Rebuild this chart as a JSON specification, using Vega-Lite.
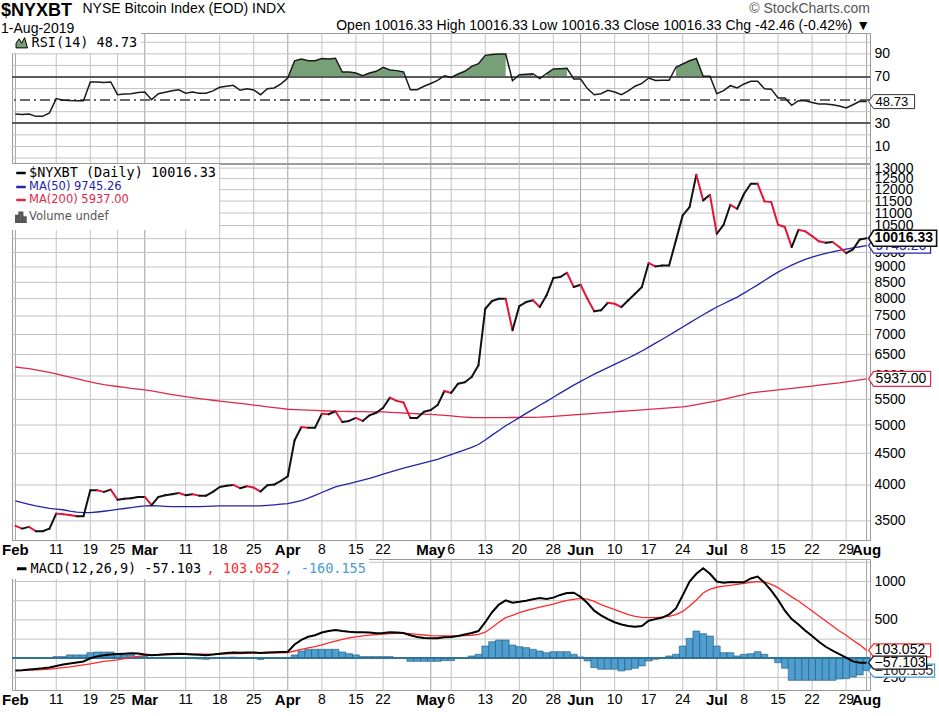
{
"$schema": "https://vega.github.io/schema/vega-lite/v6.json",
"padding": {"left": 1, "top": 0, "right": 0, "bottom": 0},
"background": "white",
"spacing": 0,
"resolve": {"scale": {"color": "independent"}, "legend": {"color": "independent"}},
"title": {"text": "$NYXBT", "subtitle": "1-Aug-2019", "anchor": "start", "frame": "bounds", "font": "Liberation Sans", "fontSize": 18, "fontWeight": "bold", "color": "#000000", "subtitleFont": "Liberation Sans", "subtitleFontSize": 14, "subtitleColor": "#000000", "subtitlePadding": 2, "dx": 0, "offset": -35},
"config": {
  "font": "Liberation Sans",
  "view": {"stroke": "#9a9a9a", "strokeWidth": 1},
  "axis": {"labelFont": "Liberation Sans", "labelFontSize": 14, "labelColor": "#000000", "grid": false, "domain": false, "ticks": false, "labelPadding": 4, "labelOverlap": false},
  "legend": {"title": null, "labelLimit": 400}
},
"datasets": {
"xt": [{"t":"2019-02-01"},{"t":"2019-02-11"},{"t":"2019-02-19"},{"t":"2019-02-25"},{"t":"2019-03-01"},{"t":"2019-03-11"},{"t":"2019-03-18"},{"t":"2019-03-25"},{"t":"2019-04-01"},{"t":"2019-04-08"},{"t":"2019-04-15"},{"t":"2019-04-22"},{"t":"2019-05-01"},{"t":"2019-05-06"},{"t":"2019-05-13"},{"t":"2019-05-20"},{"t":"2019-05-28"},{"t":"2019-06-03"},{"t":"2019-06-10"},{"t":"2019-06-17"},{"t":"2019-06-24"},{"t":"2019-07-01"},{"t":"2019-07-08"},{"t":"2019-07-15"},{"t":"2019-07-22"},{"t":"2019-07-29"},{"t":"2019-08-01"}],
"rg": [{"g":0},{"g":10},{"g":20},{"g":40},{"g":60},{"g":80},{"g":90},{"g":100}],
"pg": [{"g":3500},{"g":4000},{"g":4500},{"g":5000},{"g":5500},{"g":6000},{"g":6500},{"g":7000},{"g":7500},{"g":8000},{"g":8500},{"g":9000},{"g":9500},{"g":10000},{"g":10500},{"g":11000},{"g":11500},{"g":12000},{"g":12500},{"g":13000}],
"mg": [{"g":-250},{"g":250},{"g":500},{"g":750},{"g":1000},{"g":1250}],
"d": [
{"d":"2019-02-01","c":3435,"m50":3770,"m200":6204,"rsi":38,"macd":-160,"sig":-160,"h":0},
{"d":"2019-02-04","c":3401,"m50":3745,"m200":6185,"rsi":37.5,"macd":-155,"sig":-158,"h":2},
{"d":"2019-02-05","c":3423,"m50":3722,"m200":6165,"rsi":38,"macd":-145,"sig":-155,"h":3},
{"d":"2019-02-06","c":3368,"m50":3700,"m200":6140,"rsi":36,"macd":-138,"sig":-152,"h":5},
{"d":"2019-02-07","c":3368,"m50":3683,"m200":6110,"rsi":36,"macd":-130,"sig":-147,"h":8},
{"d":"2019-02-08","c":3401,"m50":3667,"m200":6080,"rsi":38.9,"macd":-120,"sig":-140,"h":10},
{"d":"2019-02-11","c":3596,"m50":3658,"m200":6045,"rsi":51.3,"macd":-100,"sig":-132,"h":22},
{"d":"2019-02-12","c":3588,"m50":3648,"m200":6010,"rsi":50,"macd":-80,"sig":-122,"h":22},
{"d":"2019-02-13","c":3579,"m50":3630,"m200":5977,"rsi":49.6,"macd":-68,"sig":-112,"h":44},
{"d":"2019-02-14","c":3562,"m50":3615,"m200":5940,"rsi":49.5,"macd":-55,"sig":-100,"h":44},
{"d":"2019-02-15","c":3562,"m50":3610,"m200":5905,"rsi":49.5,"macd":-42,"sig":-87,"h":44},
{"d":"2019-02-19","c":3923,"m50":3610,"m200":5868,"rsi":65.7,"macd":0,"sig":-72,"h":73},
{"d":"2019-02-20","c":3923,"m50":3618,"m200":5835,"rsi":65.7,"macd":25,"sig":-56,"h":82},
{"d":"2019-02-21","c":3899,"m50":3628,"m200":5810,"rsi":65.2,"macd":40,"sig":-40,"h":82},
{"d":"2019-02-22","c":3932,"m50":3640,"m200":5790,"rsi":65.7,"macd":50,"sig":-30,"h":82},
{"d":"2019-02-25","c":3788,"m50":3652,"m200":5770,"rsi":54.7,"macd":55,"sig":-22,"h":60},
{"d":"2019-02-26","c":3802,"m50":3665,"m200":5750,"rsi":55.2,"macd":60,"sig":-5,"h":44},
{"d":"2019-02-27","c":3808,"m50":3678,"m200":5730,"rsi":55.5,"macd":65,"sig":10,"h":44},
{"d":"2019-02-28","c":3826,"m50":3690,"m200":5715,"rsi":56.5,"macd":62,"sig":25,"h":22},
{"d":"2019-03-01","c":3826,"m50":3700,"m200":5700,"rsi":57,"macd":50,"sig":35,"h":22},
{"d":"2019-03-04","c":3710,"m50":3705,"m200":5675,"rsi":50.4,"macd":40,"sig":40,"h":0},
{"d":"2019-03-05","c":3826,"m50":3700,"m200":5650,"rsi":55.5,"macd":45,"sig":43,"h":2},
{"d":"2019-03-06","c":3851,"m50":3694,"m200":5625,"rsi":56.8,"macd":52,"sig":46,"h":6},
{"d":"2019-03-07","c":3865,"m50":3690,"m200":5600,"rsi":58.2,"macd":57,"sig":49,"h":8},
{"d":"2019-03-08","c":3883,"m50":3690,"m200":5578,"rsi":59,"macd":60,"sig":52,"h":8},
{"d":"2019-03-11","c":3851,"m50":3690,"m200":5556,"rsi":56,"macd":55,"sig":53,"h":2},
{"d":"2019-03-12","c":3865,"m50":3690,"m200":5535,"rsi":57,"macd":50,"sig":54,"h":-4},
{"d":"2019-03-13","c":3845,"m50":3692,"m200":5514,"rsi":56,"macd":45,"sig":54,"h":-9},
{"d":"2019-03-14","c":3845,"m50":3695,"m200":5498,"rsi":56,"macd":40,"sig":53,"h":-13},
{"d":"2019-03-15","c":3899,"m50":3698,"m200":5482,"rsi":58,"macd":48,"sig":52,"h":-4},
{"d":"2019-03-18","c":3971,"m50":3700,"m200":5466,"rsi":61.1,"macd":60,"sig":54,"h":6},
{"d":"2019-03-19","c":3990,"m50":3700,"m200":5450,"rsi":62,"macd":70,"sig":57,"h":13},
{"d":"2019-03-20","c":4001,"m50":3700,"m200":5434,"rsi":62.8,"macd":75,"sig":60,"h":15},
{"d":"2019-03-21","c":3953,"m50":3700,"m200":5418,"rsi":58.5,"macd":72,"sig":62,"h":10},
{"d":"2019-03-22","c":3981,"m50":3700,"m200":5402,"rsi":59.8,"macd":75,"sig":64,"h":11},
{"d":"2019-03-25","c":3962,"m50":3700,"m200":5385,"rsi":58.8,"macd":74,"sig":66,"h":8},
{"d":"2019-03-26","c":3904,"m50":3702,"m200":5368,"rsi":54.7,"macd":70,"sig":67,"h":-15},
{"d":"2019-03-27","c":3997,"m50":3708,"m200":5350,"rsi":59.8,"macd":75,"sig":68,"h":7},
{"d":"2019-03-28","c":4006,"m50":3716,"m200":5333,"rsi":60.5,"macd":78,"sig":70,"h":8},
{"d":"2019-03-29","c":4061,"m50":3724,"m200":5317,"rsi":64,"macd":82,"sig":72,"h":10},
{"d":"2019-04-01","c":4133,"m50":3733,"m200":5302,"rsi":69,"macd":85,"sig":75,"h":10,"ob":1},
{"d":"2019-04-02","c":4724,"m50":3752,"m200":5296,"rsi":84,"macd":180,"sig":95,"h":44,"ob":1},
{"d":"2019-04-03","c":4963,"m50":3773,"m200":5290,"rsi":85.6,"macd":240,"sig":115,"h":95,"ob":1},
{"d":"2019-04-04","c":4950,"m50":3810,"m200":5284,"rsi":84.1,"macd":280,"sig":135,"h":117,"ob":1},
{"d":"2019-04-05","c":4950,"m50":3850,"m200":5278,"rsi":84.1,"macd":300,"sig":151,"h":117,"ob":1},
{"d":"2019-04-08","c":5216,"m50":3890,"m200":5272,"rsi":85.9,"macd":335,"sig":175,"h":117,"ob":1},
{"d":"2019-04-09","c":5204,"m50":3932,"m200":5267,"rsi":85.5,"macd":355,"sig":200,"h":117,"ob":1},
{"d":"2019-04-10","c":5262,"m50":3971,"m200":5262,"rsi":86.2,"macd":368,"sig":225,"h":117,"ob":1},
{"d":"2019-04-11","c":5057,"m50":3997,"m200":5260,"rsi":74.3,"macd":355,"sig":245,"h":82,"ob":1},
{"d":"2019-04-12","c":5076,"m50":4022,"m200":5258,"rsi":74.3,"macd":345,"sig":265,"h":60,"ob":1},
{"d":"2019-04-15","c":5133,"m50":4048,"m200":5256,"rsi":73.5,"macd":340,"sig":280,"h":44,"ob":1},
{"d":"2019-04-16","c":5076,"m50":4074,"m200":5254,"rsi":71.1,"macd":338,"sig":292,"h":22,"ob":1},
{"d":"2019-04-17","c":5183,"m50":4100,"m200":5252,"rsi":73.5,"macd":335,"sig":302,"h":22,"ob":1},
{"d":"2019-04-18","c":5234,"m50":4132,"m200":5250,"rsi":74.9,"macd":325,"sig":310,"h":22,"ob":1},
{"d":"2019-04-22","c":5332,"m50":4164,"m200":5249,"rsi":78.4,"macd":330,"sig":316,"h":22,"ob":1},
{"d":"2019-04-23","c":5535,"m50":4196,"m200":5242,"rsi":76,"macd":340,"sig":322,"h":22,"ob":1},
{"d":"2019-04-24","c":5469,"m50":4228,"m200":5235,"rsi":75.5,"macd":335,"sig":325,"h":10,"ob":1},
{"d":"2019-04-25","c":5435,"m50":4260,"m200":5228,"rsi":74.3,"macd":330,"sig":325,"h":5,"ob":1},
{"d":"2019-04-26","c":5133,"m50":4288,"m200":5221,"rsi":59,"macd":300,"sig":320,"h":-40},
{"d":"2019-04-29","c":5133,"m50":4316,"m200":5214,"rsi":59,"macd":277,"sig":312,"h":-40},
{"d":"2019-04-30","c":5253,"m50":4344,"m200":5208,"rsi":62,"macd":265,"sig":303,"h":-40},
{"d":"2019-05-01","c":5286,"m50":4372,"m200":5202,"rsi":64.4,"macd":260,"sig":295,"h":-40},
{"d":"2019-05-02","c":5385,"m50":4400,"m200":5192,"rsi":67,"macd":262,"sig":292,"h":-40},
{"d":"2019-05-03","c":5675,"m50":4440,"m200":5182,"rsi":71.1,"macd":275,"sig":290,"h":-30,"ob":2},
{"d":"2019-05-06","c":5633,"m50":4480,"m200":5172,"rsi":69.7,"macd":277,"sig":290,"h":-30,"ob":2},
{"d":"2019-05-07","c":5830,"m50":4520,"m200":5160,"rsi":72.6,"macd":290,"sig":293,"h":0,"ob":2},
{"d":"2019-05-08","c":5863,"m50":4560,"m200":5150,"rsi":74.9,"macd":310,"sig":296,"h":0,"ob":2},
{"d":"2019-05-09","c":5977,"m50":4600,"m200":5142,"rsi":79.2,"macd":330,"sig":300,"h":30,"ob":2},
{"d":"2019-05-10","c":6243,"m50":4650,"m200":5140,"rsi":81.5,"macd":355,"sig":312,"h":52,"ob":2},
{"d":"2019-05-13","c":7705,"m50":4730,"m200":5140,"rsi":88.7,"macd":470,"sig":340,"h":160,"ob":2},
{"d":"2019-05-14","c":7929,"m50":4815,"m200":5140,"rsi":89.5,"macd":600,"sig":400,"h":216,"ob":2},
{"d":"2019-05-15","c":7997,"m50":4900,"m200":5140,"rsi":89.9,"macd":700,"sig":470,"h":238,"ob":2},
{"d":"2019-05-16","c":7997,"m50":4985,"m200":5141,"rsi":89.9,"macd":755,"sig":529,"h":238,"ob":2},
{"d":"2019-05-17","c":7111,"m50":5060,"m200":5142,"rsi":66.8,"macd":724,"sig":560,"h":173},
{"d":"2019-05-20","c":7783,"m50":5140,"m200":5143,"rsi":72,"macd":735,"sig":594,"h":151,"ob":3},
{"d":"2019-05-21","c":7900,"m50":5220,"m200":5144,"rsi":72.4,"macd":750,"sig":620,"h":139,"ob":3},
{"d":"2019-05-22","c":7950,"m50":5300,"m200":5145,"rsi":72.8,"macd":770,"sig":645,"h":117,"ob":3},
{"d":"2019-05-23","c":7754,"m50":5380,"m200":5147,"rsi":68.6,"macd":785,"sig":665,"h":95},
{"d":"2019-05-24","c":8099,"m50":5460,"m200":5155,"rsi":73,"macd":772,"sig":685,"h":73,"ob":4},
{"d":"2019-05-28","c":8637,"m50":5545,"m200":5164,"rsi":77,"macd":790,"sig":705,"h":86,"ob":4},
{"d":"2019-05-29","c":8669,"m50":5630,"m200":5174,"rsi":77.2,"macd":825,"sig":730,"h":86,"ob":4},
{"d":"2019-05-30","c":8809,"m50":5715,"m200":5183,"rsi":77.5,"macd":850,"sig":755,"h":86,"ob":4},
{"d":"2019-05-31","c":8352,"m50":5800,"m200":5193,"rsi":68.3,"macd":854,"sig":768,"h":52},
{"d":"2019-06-03","c":8425,"m50":5880,"m200":5202,"rsi":68.3,"macd":800,"sig":780,"h":17},
{"d":"2019-06-04","c":7997,"m50":5960,"m200":5212,"rsi":60,"macd":720,"sig":770,"h":-35},
{"d":"2019-06-05","c":7631,"m50":6040,"m200":5222,"rsi":54.7,"macd":620,"sig":740,"h":-122},
{"d":"2019-06-06","c":7660,"m50":6115,"m200":5232,"rsi":55.5,"macd":560,"sig":700,"h":-143},
{"d":"2019-06-07","c":7879,"m50":6190,"m200":5242,"rsi":58.5,"macd":510,"sig":665,"h":-143},
{"d":"2019-06-10","c":7850,"m50":6265,"m200":5252,"rsi":57,"macd":470,"sig":635,"h":-143},
{"d":"2019-06-11","c":7754,"m50":6340,"m200":5262,"rsi":54.7,"macd":440,"sig":600,"h":-165},
{"d":"2019-06-12","c":7950,"m50":6415,"m200":5271,"rsi":58,"macd":420,"sig":570,"h":-150},
{"d":"2019-06-13","c":8147,"m50":6495,"m200":5280,"rsi":62,"macd":410,"sig":545,"h":-130},
{"d":"2019-06-14","c":8352,"m50":6585,"m200":5290,"rsi":64.5,"macd":420,"sig":534,"h":-100},
{"d":"2019-06-17","c":9132,"m50":6680,"m200":5300,"rsi":69.1,"macd":490,"sig":530,"h":-35},
{"d":"2019-06-18","c":9020,"m50":6780,"m200":5310,"rsi":67,"macd":510,"sig":530,"h":-13},
{"d":"2019-06-19","c":9053,"m50":6880,"m200":5320,"rsi":67.2,"macd":530,"sig":535,"h":9},
{"d":"2019-06-20","c":9053,"m50":6980,"m200":5330,"rsi":67.2,"macd":570,"sig":545,"h":30},
{"d":"2019-06-21","c":9936,"m50":7090,"m200":5340,"rsi":78.4,"macd":650,"sig":570,"h":52,"ob":5},
{"d":"2019-06-24","c":10904,"m50":7200,"m200":5349,"rsi":81.2,"macd":820,"sig":610,"h":160,"ob":5},
{"d":"2019-06-25","c":11245,"m50":7310,"m200":5370,"rsi":84,"macd":1000,"sig":680,"h":260,"ob":5},
{"d":"2019-06-26","c":12680,"m50":7424,"m200":5395,"rsi":86,"macd":1100,"sig":760,"h":355,"ob":5},
{"d":"2019-06-27","c":11529,"m50":7535,"m200":5420,"rsi":70.6,"macd":1172,"sig":850,"h":320,"ob":5},
{"d":"2019-06-28","c":11771,"m50":7645,"m200":5445,"rsi":70.6,"macd":1100,"sig":900,"h":290,"ob":5},
{"d":"2019-07-01","c":10183,"m50":7754,"m200":5470,"rsi":55.6,"macd":1000,"sig":925,"h":160},
{"d":"2019-07-02","c":10529,"m50":7850,"m200":5502,"rsi":58.2,"macd":985,"sig":940,"h":73},
{"d":"2019-07-03","c":11342,"m50":7950,"m200":5535,"rsi":62.5,"macd":995,"sig":950,"h":73},
{"d":"2019-07-05","c":11175,"m50":8047,"m200":5568,"rsi":60.5,"macd":990,"sig":962,"h":30},
{"d":"2019-07-08","c":11816,"m50":8165,"m200":5600,"rsi":64,"macd":990,"sig":975,"h":52},
{"d":"2019-07-09","c":12263,"m50":8290,"m200":5633,"rsi":66.3,"macd":1040,"sig":990,"h":60},
{"d":"2019-07-10","c":12263,"m50":8420,"m200":5650,"rsi":66.3,"macd":1065,"sig":998,"h":86},
{"d":"2019-07-11","c":11487,"m50":8560,"m200":5666,"rsi":59.9,"macd":985,"sig":995,"h":52},
{"d":"2019-07-12","c":11455,"m50":8700,"m200":5682,"rsi":59.5,"macd":880,"sig":963,"h":9},
{"d":"2019-07-15","c":10529,"m50":8830,"m200":5698,"rsi":51.9,"macd":760,"sig":920,"h":-57},
{"d":"2019-07-16","c":10440,"m50":8950,"m200":5714,"rsi":51.9,"macd":620,"sig":860,"h":-130},
{"d":"2019-07-17","c":9692,"m50":9060,"m200":5730,"rsi":45.5,"macd":510,"sig":800,"h":-287},
{"d":"2019-07-18","c":10335,"m50":9165,"m200":5746,"rsi":49.5,"macd":440,"sig":746,"h":-287},
{"d":"2019-07-19","c":10275,"m50":9260,"m200":5762,"rsi":49.5,"macd":360,"sig":680,"h":-287},
{"d":"2019-07-22","c":10096,"m50":9335,"m200":5780,"rsi":48,"macd":290,"sig":615,"h":-287},
{"d":"2019-07-23","c":9900,"m50":9405,"m200":5798,"rsi":46.7,"macd":215,"sig":551,"h":-287},
{"d":"2019-07-24","c":9850,"m50":9465,"m200":5815,"rsi":46.7,"macd":150,"sig":485,"h":-287},
{"d":"2019-07-25","c":9875,"m50":9520,"m200":5833,"rsi":46,"macd":100,"sig":420,"h":-287},
{"d":"2019-07-26","c":9692,"m50":9570,"m200":5850,"rsi":45,"macd":55,"sig":355,"h":-270},
{"d":"2019-07-29","c":9477,"m50":9615,"m200":5872,"rsi":43.2,"macd":10,"sig":300,"h":-265},
{"d":"2019-07-30","c":9610,"m50":9660,"m200":5894,"rsi":46,"macd":-40,"sig":235,"h":-243},
{"d":"2019-07-31","c":9972,"m50":9703,"m200":5916,"rsi":49,"macd":-57,"sig":175,"h":-217},
{"d":"2019-08-01","c":10016.33,"m50":9745.26,"m200":5937,"rsi":48.73,"macd":-57.103,"sig":103.052,"h":-160.155}
]},
"vconcat": [
{
"spacing": -5,
"resolve": {"scale": {"color": "independent"}, "legend": {"color": "independent"}},
"vconcat": [
{
 "width": 858, "height": 130,
 "data": {"name": "d"},
 "title": {"text": "© StockCharts.com", "subtitle": "Open 10016.33  High 10016.33  Low 10016.33  Close 10016.33  Chg -42.46 (-0.42%) ▼", "anchor": "end", "frame": "group", "font": "Liberation Sans", "fontSize": 14, "fontWeight": "normal", "color": "#555555", "subtitleFont": "Liberation Sans", "subtitleFontSize": 14, "subtitleColor": "#000000", "subtitlePadding": 3, "offset": -32},
 "layer": [
  {"data": {"name": "xt"},
   "mark": {"type": "rule", "strokeWidth": 1},
   "encoding": {
    "x": {"field": "t", "type": "ordinal", "bandPosition": 0.5, "scale": {"type": "band", "paddingInner": 0, "paddingOuter": 0},
      "axis": {"orient": "top", "labels": false, "domain": false, "ticks": false, "grid": false,
        "title": "NYSE Bitcoin Index (EOD)  INDX", "titleFont": "Liberation Sans", "titleFontSize": 14, "titleFontWeight": "normal", "titleColor": "#000000", "titleAnchor": "start", "titleAlign": "left", "titleX": 70, "titlePadding": 18}},
    "color": {"condition": {"test": "indexof(['2019-02-01','2019-03-01','2019-04-01','2019-05-01','2019-06-03','2019-07-01','2019-08-01'], datum.t) >= 0", "value": "#a0a0a0"}, "value": "#c2c2c2"}}},
  {"data": {"name": "rg"},
   "mark": {"type": "rule", "strokeWidth": 1, "color": "#c2c2c2"},
   "encoding": {"y": {"field": "g", "type": "quantitative", "scale": {"domain": [-4.3, 108], "nice": false, "zero": false},
      "axis": {"orient": "right", "values": [10,30,70,90], "labelOverlap": false, "title": null}}}},
  {"transform": [{"filter": "isValid(datum.ob)"}],
   "mark": {"type": "area", "opacity": 1},
   "encoding": {
    "x": {"field": "d", "type": "ordinal", "bandPosition": 0.5},
    "y": {"field": "rsi", "type": "quantitative"},
    "y2": {"datum": 70},
    "detail": {"field": "ob", "type": "nominal"},
    "color": {"datum": "RSI(14) 48.73", "type": "nominal", "scale": {"domain": ["RSI(14) 48.73"], "range": ["#78a078"]},
      "legend": {"orient": "top-left", "offset": 0, "fillColor": "white", "padding": 3, "labelFont": "DejaVu Sans Mono", "labelFontSize": 13.5, "labelColor": "#000000", "symbolType": "M-1,0.9L-1,0.1L-0.45,-0.7L0,0.1L0.5,-0.9L1,0.9Z", "symbolSize": 130, "symbolStrokeColor": "#000000", "symbolStrokeWidth": 1, "labelOffset": 3}}
   }},
  {"mark": {"type": "rule", "color": "#5a5a5a", "strokeWidth": 1.2}, "encoding": {"y": {"datum": 70}}},
  {"mark": {"type": "rule", "color": "#5a5a5a", "strokeWidth": 1.2}, "encoding": {"y": {"datum": 30}}},
  {"mark": {"type": "rule", "color": "#6a6a6a", "strokeWidth": 1, "strokeDash": [10, 4, 2, 4]}, "encoding": {"y": {"datum": 50}}},
  {"mark": {"type": "line", "color": "#1a1a1a", "strokeWidth": 1.5},
   "encoding": {"x": {"field": "d", "type": "ordinal", "bandPosition": 0.5}, "y": {"field": "rsi", "type": "quantitative"}}},
  {"transform": [{"filter": "datum.d == '2019-08-01'"}],
   "mark": {"type": "point", "shape": "M0,0L0.217,-0.304L2,-0.304L2,0.304L0.217,0.304Z", "size": 2116, "filled": true, "fill": "white", "stroke": "#333333", "strokeWidth": 1, "opacity": 1, "xOffset": 2},
   "encoding": {"x": {"field": "d", "type": "ordinal", "bandPosition": 0.5}, "y": {"field": "rsi", "type": "quantitative"}}},
  {"transform": [{"filter": "datum.d == '2019-08-01'"}],
   "mark": {"type": "text", "align": "left", "baseline": "middle", "dx": 9, "font": "Liberation Sans", "fontSize": 13, "color": "#000000"},
   "encoding": {"x": {"field": "d", "type": "ordinal", "bandPosition": 0.5}, "y": {"field": "rsi", "type": "quantitative"}, "text": {"field": "rsi", "type": "quantitative", "format": ".2f"}}}
 ]
},
{
 "width": 858, "height": 376,
 "data": {"name": "d"},
 "layer": [
  {"data": {"name": "xt"},
   "mark": {"type": "rule", "strokeWidth": 1},
   "encoding": {
    "x": {"field": "t", "type": "ordinal", "bandPosition": 0.5, "scale": {"type": "band", "paddingInner": 0, "paddingOuter": 0},
      "axis": {"orient": "bottom", "values": ["2019-02-01","2019-02-11","2019-02-19","2019-02-25","2019-03-01","2019-03-11","2019-03-18","2019-03-25","2019-04-01","2019-04-08","2019-04-15","2019-04-22","2019-05-01","2019-05-06","2019-05-13","2019-05-20","2019-05-28","2019-06-03","2019-06-10","2019-06-17","2019-06-24","2019-07-01","2019-07-08","2019-07-15","2019-07-22","2019-07-29","2019-08-01"],
        "labelExpr": "indexof(['2019-02-01','2019-03-01','2019-04-01','2019-05-01','2019-06-03','2019-07-01','2019-08-01'], datum.value) >= 0 ? ['','Jan','Feb','Mar','Apr','May','Jun','Jul','Aug'][toNumber(slice(datum.value,5,7))] : '' + toNumber(slice(datum.value,8,10))",
        "labelFontWeight": {"condition": {"test": "indexof(['2019-02-01','2019-03-01','2019-04-01','2019-05-01','2019-06-03','2019-07-01','2019-08-01'], datum.value) >= 0", "value": "bold"}, "value": "normal"},
        "labelFontSize": {"condition": {"test": "indexof(['2019-02-01','2019-03-01','2019-04-01','2019-05-01','2019-06-03','2019-07-01','2019-08-01'], datum.value) >= 0", "value": 15}, "value": 14},
        "labelAngle": 0, "labelPadding": 2, "labelOverlap": false, "labelBound": false, "labelBaseline": "top", "domain": false, "ticks": false, "grid": false, "title": null}},
    "color": {"condition": {"test": "indexof(['2019-02-01','2019-03-01','2019-04-01','2019-05-01','2019-06-03','2019-07-01','2019-08-01'], datum.t) >= 0", "value": "#a0a0a0"}, "value": "#c2c2c2"}}},
  {"data": {"name": "pg"},
   "mark": {"type": "rule", "strokeWidth": 1, "color": "#c2c2c2"},
   "encoding": {"y": {"field": "g", "type": "quantitative", "scale": {"type": "log", "domain": [3260, 13200], "nice": false},
      "axis": {"orient": "right", "values": [3500,4000,4500,5000,5500,6000,6500,7000,7500,8000,8500,9000,9500,10000,10500,11000,11500,12000,12500,13000], "format": "d", "labelOverlap": false, "labelBound": false, "title": null}}}},
  {"mark": {"type": "line", "strokeWidth": 1.3},
   "encoding": {
    "x": {"field": "d", "type": "ordinal", "bandPosition": 0.5},
    "y": {"field": "m200", "type": "quantitative"},
    "color": {"datum": "m200", "type": "nominal",
      "scale": {"domain": ["c", "m50", "m200", "vol"], "range": ["#000000", "#2424a6", "#e0284a", "#555555"]},
      "legend": {"orient": "top-left", "offset": 0, "fillColor": "white", "padding": 3, "rowPadding": 1, "labelOffset": 2,
        "symbolType": {"expr": "datum.value == 'vol' ? 'M-1,1L-1,-0.2L-0.45,-0.2L-0.45,1ZM-0.3,1L-0.3,-0.9L0.25,-0.9L0.25,1ZM0.4,1L0.4,0.1L0.95,0.1L0.95,1Z' : 'stroke'"},
        "symbolStrokeWidth": 2.5, "symbolSize": 90,
        "labelExpr": "datum.value == 'c' ? '$NYXBT (Daily) 10016.33' : datum.value == 'm50' ? 'MA(50) 9745.26' : datum.value == 'm200' ? 'MA(200) 5937.00' : 'Volume undef'",
        "labelColor": {"expr": "datum.value == 'm50' ? '#2424a6' : datum.value == 'm200' ? '#e0284a' : datum.value == 'vol' ? '#555555' : '#000000'"},
        "labelFont": {"expr": "datum.value == 'c' ? 'DejaVu Sans Mono' : 'DejaVu Sans'"},
        "labelFontSize": {"expr": "datum.value == 'c' ? 13.5 : 11.5"}}}
   }},
  {"mark": {"type": "line", "strokeWidth": 1.3},
   "encoding": {"x": {"field": "d", "type": "ordinal", "bandPosition": 0.5}, "y": {"field": "m50", "type": "quantitative"}, "color": {"datum": "m50", "type": "nominal"}}},
  {"transform": [{"window": [{"op": "lag", "field": "c", "as": "pc"}, {"op": "lag", "field": "d", "as": "pd"}], "sort": [{"field": "d", "order": "ascending"}]}, {"filter": "datum.pd != null"}],
   "mark": {"type": "rule", "strokeWidth": 2, "strokeCap": "round"},
   "encoding": {"x": {"field": "pd", "type": "ordinal", "bandPosition": 0.5}, "x2": {"field": "d"}, "y": {"field": "pc", "type": "quantitative"}, "y2": {"field": "c"},
     "color": {"condition": {"test": "datum.c < datum.pc", "value": "#e0173a"}, "value": "#111111"}}},
  {"transform": [{"filter": "datum.d == '2019-08-01'"}],
   "mark": {"type": "point", "shape": "M0,0L0.161,-0.242L2,-0.242L2,0.242L0.161,0.242Z", "size": 3844, "filled": true, "fill": "white", "stroke": "#e0284a", "strokeWidth": 1.2, "opacity": 1, "xOffset": 2},
   "encoding": {"x": {"field": "d", "type": "ordinal", "bandPosition": 0.5}, "y": {"field": "m200", "type": "quantitative"}}},
  {"transform": [{"filter": "datum.d == '2019-08-01'"}],
   "mark": {"type": "text", "align": "left", "baseline": "middle", "dx": 9, "font": "Liberation Sans", "fontSize": 14, "color": "#000000"},
   "encoding": {"x": {"field": "d", "type": "ordinal", "bandPosition": 0.5}, "y": {"field": "m200", "type": "quantitative"}, "text": {"field": "m200", "type": "quantitative", "format": ".2f"}}},
  {"transform": [{"filter": "datum.d == '2019-08-01'"}],
   "mark": {"type": "point", "shape": "M0,0L0.161,-0.242L2,-0.242L2,0.242L0.161,0.242Z", "size": 3844, "filled": true, "fill": "white", "stroke": "#2424a6", "strokeWidth": 1.2, "opacity": 1, "xOffset": 2},
   "encoding": {"x": {"field": "d", "type": "ordinal", "bandPosition": 0.5}, "y": {"field": "m50", "type": "quantitative"}}},
  {"transform": [{"filter": "datum.d == '2019-08-01'"}],
   "mark": {"type": "text", "align": "left", "baseline": "middle", "dx": 9, "font": "Liberation Sans", "fontSize": 14, "color": "#2424a6"},
   "encoding": {"x": {"field": "d", "type": "ordinal", "bandPosition": 0.5}, "y": {"field": "m50", "type": "quantitative"}, "text": {"field": "m50", "type": "quantitative", "format": ".2f"}}},
  {"transform": [{"filter": "datum.d == '2019-08-01'"}],
   "mark": {"type": "point", "shape": "M0,0L0.147,-0.235L2,-0.235L2,0.235L0.147,0.235Z", "size": 4624, "filled": true, "fill": "white", "stroke": "#111111", "strokeWidth": 1.6, "opacity": 1, "xOffset": 2},
   "encoding": {"x": {"field": "d", "type": "ordinal", "bandPosition": 0.5}, "y": {"field": "c", "type": "quantitative"}}},
  {"transform": [{"filter": "datum.d == '2019-08-01'"}],
   "mark": {"type": "text", "align": "left", "baseline": "middle", "dx": 8, "font": "Liberation Sans", "fontSize": 14, "fontWeight": "bold", "color": "#000000"},
   "encoding": {"x": {"field": "d", "type": "ordinal", "bandPosition": 0.5}, "y": {"field": "c", "type": "quantitative"}, "text": {"field": "c", "type": "quantitative", "format": ".2f"}}}
 ]
}
]
},
{
 "width": 858, "height": 131,
 "data": {"name": "d"},
 "layer": [
  {"data": {"name": "xt"},
   "mark": {"type": "rule", "strokeWidth": 1},
   "encoding": {
    "x": {"field": "t", "type": "ordinal", "bandPosition": 0.5, "scale": {"type": "band", "paddingInner": 0, "paddingOuter": 0},
      "axis": {"orient": "bottom", "values": ["2019-02-01","2019-02-11","2019-02-19","2019-02-25","2019-03-01","2019-03-11","2019-03-18","2019-03-25","2019-04-01","2019-04-08","2019-04-15","2019-04-22","2019-05-01","2019-05-06","2019-05-13","2019-05-20","2019-05-28","2019-06-03","2019-06-10","2019-06-17","2019-06-24","2019-07-01","2019-07-08","2019-07-15","2019-07-22","2019-07-29","2019-08-01"],
        "labelExpr": "indexof(['2019-02-01','2019-03-01','2019-04-01','2019-05-01','2019-06-03','2019-07-01','2019-08-01'], datum.value) >= 0 ? ['','Jan','Feb','Mar','Apr','May','Jun','Jul','Aug'][toNumber(slice(datum.value,5,7))] : '' + toNumber(slice(datum.value,8,10))",
        "labelFontWeight": {"condition": {"test": "indexof(['2019-02-01','2019-03-01','2019-04-01','2019-05-01','2019-06-03','2019-07-01','2019-08-01'], datum.value) >= 0", "value": "bold"}, "value": "normal"},
        "labelFontSize": {"condition": {"test": "indexof(['2019-02-01','2019-03-01','2019-04-01','2019-05-01','2019-06-03','2019-07-01','2019-08-01'], datum.value) >= 0", "value": 15}, "value": 14},
        "labelAngle": 0, "labelPadding": 2, "labelOverlap": false, "labelBound": false, "labelBaseline": "top", "domain": false, "ticks": false, "grid": false, "title": null}},
    "color": {"condition": {"test": "indexof(['2019-02-01','2019-03-01','2019-04-01','2019-05-01','2019-06-03','2019-07-01','2019-08-01'], datum.t) >= 0", "value": "#a0a0a0"}, "value": "#c2c2c2"}}},
  {"data": {"name": "mg"},
   "mark": {"type": "rule", "strokeWidth": 1, "color": "#c2c2c2"},
   "encoding": {"y": {"field": "g", "type": "quantitative", "scale": {"domain": [-413, 1293], "nice": false, "zero": false},
      "axis": {"orient": "right", "values": [-250,250,500,750,1000,1250], "format": "d", "labelOverlap": false, "labelBound": false, "title": null}}}},
  {"mark": {"type": "bar", "color": "#4e9ecf", "stroke": "#23557a", "strokeWidth": 0.6},
   "encoding": {
    "x": {"field": "d", "type": "ordinal"},
    "y": {"field": "h", "type": "quantitative", "axis": {"orient": "right", "values": [-250,250,500,750,1000,1250], "format": "d", "labelOverlap": false, "labelBound": false, "title": null}},
    "y2": {"datum": 0}
   }},
  {"mark": {"type": "rule", "color": "#2f7396", "strokeWidth": 1.2}, "encoding": {"y": {"datum": 0}}},
  {"mark": {"type": "line", "strokeWidth": 1.3},
   "encoding": {"x": {"field": "d", "type": "ordinal", "bandPosition": 0.5}, "y": {"field": "sig", "type": "quantitative", "axis": {"orient": "right", "values": [-250,250,500,750,1000,1250], "format": "d", "labelOverlap": false, "labelBound": false, "title": null}},
     "color": {"datum": "sig", "type": "nominal", "scale": {"domain": ["macd", "sig", "hist"], "range": ["#000000", "#ff2a2a", "#4a9ad0"]},
       "legend": {"orient": "top-left", "offset": 0, "fillColor": "white", "padding": 3, "direction": "horizontal", "columns": 3, "columnPadding": 0, "gridAlign": "none",
         "labelOffset": {"expr": "datum.value == 'macd' ? 2 : -9"},
         "symbolType": "stroke", "symbolStrokeWidth": 3,
         "symbolSize": {"expr": "datum.value == 'macd' ? 90 : 0"},
         "symbolOpacity": {"expr": "datum.value == 'macd' ? 1 : 0"},
         "labelExpr": "datum.value == 'macd' ? 'MACD(12,26,9) -57.103' : datum.value == 'sig' ? ', 103.052' : ', -160.155'",
         "labelColor": {"expr": "datum.value == 'macd' ? '#000000' : datum.value == 'sig' ? '#ff2a2a' : '#4a9ad0'"},
         "labelFont": "DejaVu Sans Mono", "labelFontSize": 13.5}}}},
  {"mark": {"type": "line", "strokeWidth": 2},
   "encoding": {"x": {"field": "d", "type": "ordinal", "bandPosition": 0.5}, "y": {"field": "macd", "type": "quantitative", "axis": {"orient": "right", "values": [-250,250,500,750,1000,1250], "format": "d", "labelOverlap": false, "labelBound": false, "title": null}}, "color": {"datum": "macd", "type": "nominal"}}},
  {"transform": [{"filter": "datum.d == '2019-08-01'"}],
   "mark": {"type": "point", "shape": "M0,0L0.152,-0.197L2,-0.197L2,0.197L0.152,0.197Z", "size": 4356, "filled": true, "fill": "white", "stroke": "#4a9ad0", "strokeWidth": 1.2, "opacity": 1, "xOffset": 2},
   "encoding": {"x": {"field": "d", "type": "ordinal", "bandPosition": 0.5}, "y": {"field": "h", "type": "quantitative"}}},
  {"transform": [{"filter": "datum.d == '2019-08-01'"}],
   "mark": {"type": "text", "align": "left", "baseline": "middle", "dx": 8, "font": "Liberation Sans", "fontSize": 14, "color": "#333333"},
   "encoding": {"x": {"field": "d", "type": "ordinal", "bandPosition": 0.5}, "y": {"field": "h", "type": "quantitative"}, "text": {"field": "h", "type": "quantitative", "format": ".3f"}}},
  {"transform": [{"filter": "datum.d == '2019-08-01'"}],
   "mark": {"type": "point", "shape": "M0,0L0.161,-0.21L2,-0.21L2,0.21L0.161,0.21Z", "size": 3844, "filled": true, "fill": "white", "stroke": "#ff2a2a", "strokeWidth": 1.2, "opacity": 1, "xOffset": 2},
   "encoding": {"x": {"field": "d", "type": "ordinal", "bandPosition": 0.5}, "y": {"field": "sig", "type": "quantitative"}}},
  {"transform": [{"filter": "datum.d == '2019-08-01'"}],
   "mark": {"type": "text", "align": "left", "baseline": "middle", "dx": 8, "font": "Liberation Sans", "fontSize": 14, "color": "#000000"},
   "encoding": {"x": {"field": "d", "type": "ordinal", "bandPosition": 0.5}, "y": {"field": "sig", "type": "quantitative"}, "text": {"field": "sig", "type": "quantitative", "format": ".3f"}}},
  {"transform": [{"filter": "datum.d == '2019-08-01'"}],
   "mark": {"type": "point", "shape": "M0,0L0.172,-0.224L2,-0.224L2,0.224L0.172,0.224Z", "size": 3364, "filled": true, "fill": "white", "stroke": "#111111", "strokeWidth": 1.2, "opacity": 1, "xOffset": 2},
   "encoding": {"x": {"field": "d", "type": "ordinal", "bandPosition": 0.5}, "y": {"field": "macd", "type": "quantitative"}}},
  {"transform": [{"filter": "datum.d == '2019-08-01'"}],
   "mark": {"type": "text", "align": "left", "baseline": "middle", "dx": 8, "font": "Liberation Sans", "fontSize": 14, "color": "#000000"},
   "encoding": {"x": {"field": "d", "type": "ordinal", "bandPosition": 0.5}, "y": {"field": "macd", "type": "quantitative"}, "text": {"field": "macd", "type": "quantitative", "format": ".3f"}}}
 ]
}
]
}
